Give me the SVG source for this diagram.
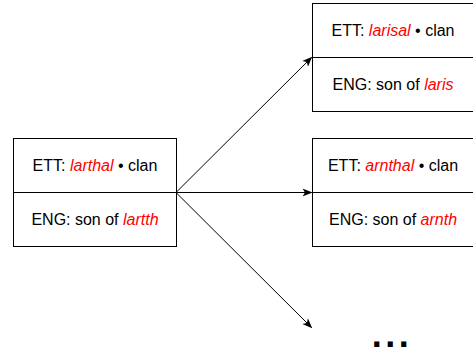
<svg xmlns="http://www.w3.org/2000/svg" width="473" height="356" viewBox="0 0 473 356">
<style>
.box{fill:#fff;stroke:#000;stroke-width:1}
.t{font-family:"Liberation Sans",Arial,sans-serif;font-size:16px;fill:#000;text-anchor:middle}
.r{fill:#ff0000;font-style:italic}
.edge{stroke:#000;stroke-width:1;fill:none;marker-end:url(#arr)}
</style>
<defs>
<marker id="arr" viewBox="0 0 10 10" refX="9" refY="5" markerWidth="10" markerHeight="10" markerUnits="userSpaceOnUse" orient="auto">
<path d="M0,1 L10,5 L0,9 L2.5,5 Z" fill="#000"/>
</marker>
</defs>
<g id="connectors">
<line class="edge" x1="176" y1="192.5" x2="311.5" y2="57.5"/>
<line class="edge" x1="176" y1="192.5" x2="311.5" y2="192.5"/>
<line class="edge" x1="176" y1="192.5" x2="311.5" y2="327.5"/>
</g>
<g id="node-larthal">
<rect class="box" x="13.5" y="138.5" width="163" height="54"/>
<rect class="box" x="13.5" y="192.5" width="163" height="54"/>
<text class="t" x="95" y="171">ETT: <tspan class="r">larthal</tspan> • clan</text>
<text class="t" x="95" y="225">ENG: son of <tspan class="r">lartth</tspan></text>
</g>
<g id="node-larisal">
<rect class="box" x="312.5" y="3.5" width="163" height="54"/>
<rect class="box" x="312.5" y="57.5" width="163" height="54"/>
<text class="t" x="393" y="36">ETT: <tspan class="r">larisal</tspan> • clan</text>
<text class="t" x="393" y="90">ENG: son of <tspan class="r">laris</tspan></text>
</g>
<g id="node-arnthal">
<rect class="box" x="312.5" y="138.5" width="163" height="54"/>
<rect class="box" x="312.5" y="192.5" width="163" height="54"/>
<text class="t" x="393" y="171">ETT: <tspan class="r">arnthal</tspan> • clan</text>
<text class="t" x="393" y="225">ENG: son of <tspan class="r">arnth</tspan></text>
</g>
<g id="node-more">
<text x="392" y="347" style="font-family:'Liberation Sans',Arial,sans-serif;font-size:36px;font-weight:bold;text-anchor:middle;letter-spacing:3.5px">...</text>
</g>
</svg>
